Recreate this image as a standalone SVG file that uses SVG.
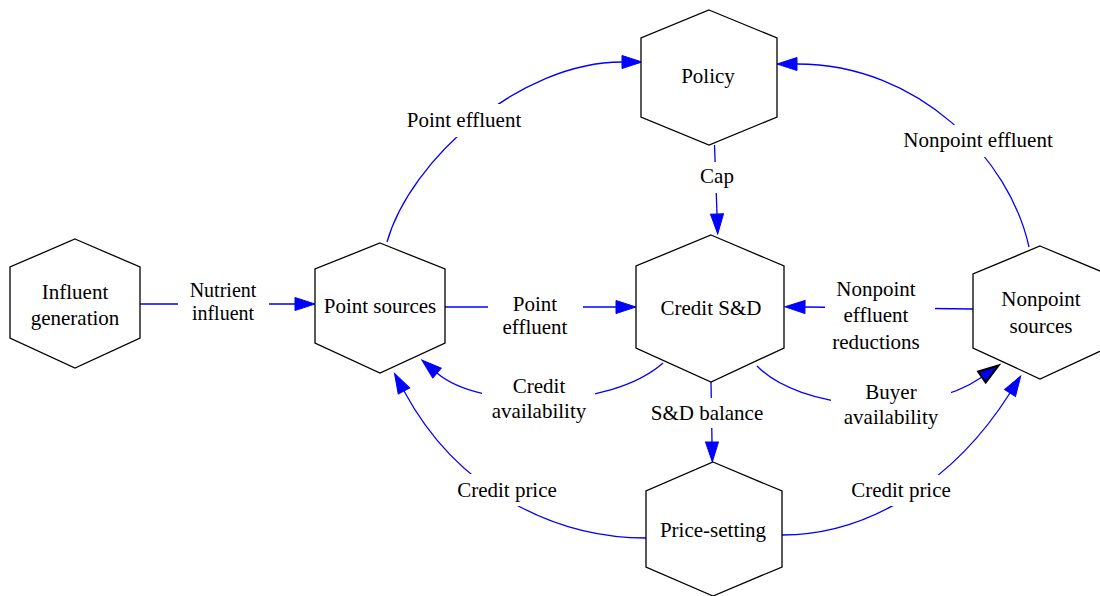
<svg xmlns="http://www.w3.org/2000/svg" width="1100" height="596" viewBox="0 0 1100 596">
<style>
.node polygon{fill:#fff;stroke:#000;stroke-width:1.3}
.edge{fill:none;stroke:#0000ff;stroke-width:1.3}
text{font-family:"Liberation Serif","Times New Roman",serif;font-size:21px;fill:#000;text-anchor:middle}
text.tight{font-size:20px}
.lbg{fill:#fff;stroke:none}
</style>
<defs>
<marker id="arr" markerUnits="userSpaceOnUse" markerWidth="22" markerHeight="15" refX="0" refY="6.5" orient="auto" overflow="visible">
<path d="M0,0 L20,6.5 L0,13 z" fill="#0000ff" stroke="#0000ff" stroke-width="1"/>
</marker>
<marker id="arrb" markerUnits="userSpaceOnUse" markerWidth="22" markerHeight="15" refX="0" refY="6.5" orient="auto" overflow="visible">
<path d="M0,0 L20,6.5 L0,13 z" fill="#0000ff" stroke="#000" stroke-width="2.2" stroke-linejoin="miter"/>
</marker>
</defs>
<rect width="1100" height="596" fill="#fff"/>
<g id="connectors">
<path class="edge" d="M140,304 L295,304" marker-end="url(#arr)"/>
<path class="edge" d="M445,307 L616,307" marker-end="url(#arr)"/>
<path class="edge" d="M973,309 L805,307" marker-end="url(#arr)"/>
<path class="edge" d="M714.5,145 L717,214" marker-end="url(#arr)"/>
<path class="edge" d="M711,382 L712,442" marker-end="url(#arr)"/>
<path class="edge" d="M387,242 C410,160 520,62 622,62" marker-end="url(#arr)"/>
<path class="edge" d="M1029,247 C1010,160 920,64 797,64" marker-end="url(#arr)"/>
<path class="edge" d="M663,363 C610,410 480,410 437,373" marker-end="url(#arr)"/>
<path class="edge" d="M757,366 C800,410 920,420 982,377" marker-end="url(#arrb)"/>
<path class="edge" d="M646,538 C560,538 460,495 404,391" marker-end="url(#arr)"/>
<path class="edge" d="M782,535 C870,535 955,480 1010,393" marker-end="url(#arr)"/>
<rect class="lbg" x="178" y="283" width="91" height="42"/>
<rect class="lbg" x="488" y="290" width="95" height="50"/>
<rect class="lbg" x="825" y="275" width="110" height="80"/>
<rect class="lbg" x="695" y="162" width="44" height="31"/>
<rect class="lbg" x="655" y="398" width="110" height="30"/>
<rect class="lbg" x="405" y="104" width="118" height="33"/>
<rect class="lbg" x="900" y="125" width="156" height="32"/>
<rect class="lbg" x="482" y="375" width="113" height="50"/>
<rect class="lbg" x="831" y="380" width="120" height="50"/>
<rect class="lbg" x="450" y="474" width="113" height="32"/>
<rect class="lbg" x="846" y="475" width="110" height="31"/>
<text class="tight" x="223" y="297">Nutrient</text>
<text class="tight" x="223" y="320">influent</text>
<text x="535" y="311">Point</text>
<text x="535" y="334">effluent</text>
<text x="876" y="296">Nonpoint</text>
<text x="876" y="322">effluent</text>
<text x="876" y="349">reductions</text>
<text x="717" y="183">Cap</text>
<text x="707" y="420">S&amp;D balance</text>
<text x="464" y="127">Point effluent</text>
<text x="978" y="147">Nonpoint effluent</text>
<text x="539" y="393">Credit</text>
<text x="539" y="418">availability</text>
<text x="891" y="399">Buyer</text>
<text x="891" y="424">availability</text>
<text x="507" y="497">Credit price</text>
<text x="901" y="497">Credit price</text>
</g>
<g id="influent-generation" class="node">
<polygon points="75,239 140,267 140,338 75,368 10,338 10,267"/>
<text x="75" y="299">Influent</text>
<text x="75" y="325">generation</text>
</g>
<g id="point-sources" class="node">
<polygon points="380,243 445,269 445,343 380,373 315,343 315,269"/>
<text x="380" y="313">Point sources</text>
</g>
<g id="policy" class="node">
<polygon points="709,10 777,38 777,117 709,145 641,117 641,38"/>
<text x="708" y="83">Policy</text>
</g>
<g id="credit-sd" class="node">
<polygon points="711,235 784,266 784,348 711,382 636,348 636,266"/>
<text x="711" y="315">Credit S&amp;D</text>
</g>
<g id="price-setting" class="node">
<polygon points="713,462 782,491 782,567 713,596 646,567 646,491"/>
<text x="713" y="537">Price-setting</text>
</g>
<g id="nonpoint-sources" class="node">
<polygon points="1040,246 1107,274 1107,348 1040,379 973,348 973,274"/>
<text x="1041" y="306">Nonpoint</text>
<text x="1041" y="333">sources</text>
</g>
</svg>
